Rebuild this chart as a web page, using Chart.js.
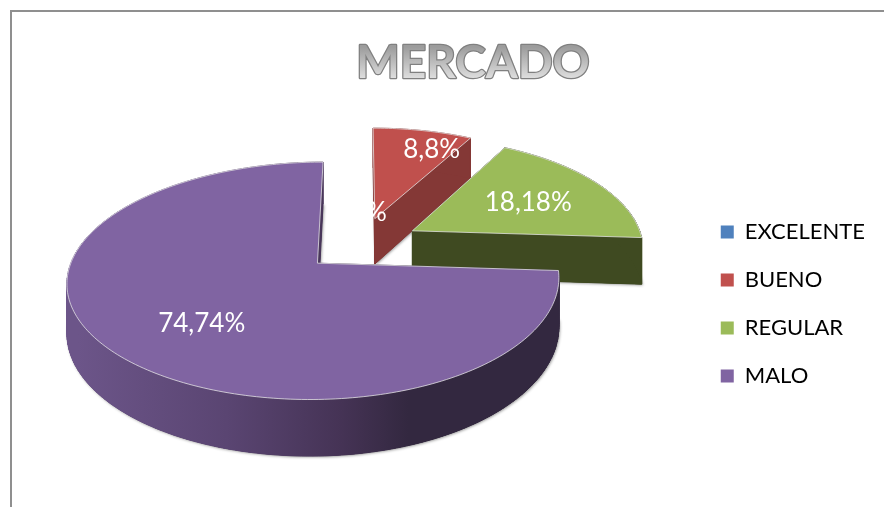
<!DOCTYPE html>
<html lang="es">
<head>
<meta charset="utf-8">
<title>MERCADO</title>
<style>
html,body{margin:0;padding:0;background:#fff}
#box{position:relative;width:884px;height:507px;overflow:hidden}
</style>
<script src="https://cdn.jsdelivr.net/npm/chart.js@4"></script>
</head>
<body>
<div id="box"><canvas id="c" width="884" height="507"></canvas></div>
<script>
const categories = ["EXCELENTE", "BUENO", "REGULAR", "MALO"];
const values = [0, 8, 18, 74];
const dataLabels = ["0,0%", "8,8%", "18,18%", "74,74%"];
const titleText = "MERCADO";
const topColors = ["#4F81BD", "#C0504D", "#9BBB59", "#8064A2"];
const wallColors = ["#2f4d71", "#843836", "#3f4a21", "#332840"];
const explode = [0, 58, 60, 58];
const labelRadius = [0.30, 0.788, 0.60, 0.642];
const labelTurnDeg = [-2, 6.6, 1.8, -5.2];

const PIE_RADIUS = 236;
const PERSP = 0.145, FLATTEN = 110.5 / PIE_RADIUS, DEPTH = 47, SKEW = 3.3 / PIE_RADIUS;

function projector(el) {
  const R = el.outerRadius;
  return (u, v) => {
    const w = 1 - PERSP * v;
    const x = u / w;
    return { x: el.x + R * x - R * SKEW * x * x, y: el.y + R * FLATTEN * v / w, drop: DEPTH / w };
  };
}
function sliceOutline(el, off) {
  const p = el.getProps(["startAngle", "endAngle"], true);
  const mid = (p.startAngle + p.endAngle) / 2;
  const ox = Math.cos(mid) * off, oy = Math.sin(mid) * off;
  const pts = [[ox, oy]];
  const n = Math.max(2, Math.ceil((p.endAngle - p.startAngle) / 0.02));
  for (let i = 0; i <= n; i++) {
    const a = p.startAngle + (p.endAngle - p.startAngle) * i / n;
    pts.push([ox + Math.cos(a), oy + Math.sin(a)]);
  }
  return { pts, ox, oy, mid };
}
function tracePath(ctx, pts) {
  ctx.beginPath();
  pts.forEach((q, i) => i ? ctx.lineTo(q.x, q.y) : ctx.moveTo(q.x, q.y));
  ctx.closePath();
}

const pie3d = {
  id: "pie3d",
  beforeDraw(chart) {
    const ctx = chart.ctx;
    ctx.save();
    ctx.fillStyle = "#fff";
    ctx.fillRect(0, 0, chart.width, chart.height);
    ctx.strokeStyle = "#8f8f8f";
    ctx.lineWidth = 2;
    ctx.beginPath();
    ctx.moveTo(11, chart.height);
    ctx.lineTo(11, 11);
    ctx.lineTo(chart.width, 11);
    ctx.stroke();
    ctx.restore();
  },
  afterLayout(chart) {
    const t = chart.titleBlock, l = chart.legend;
    const shift = 473 - (t.left + t.right) / 2;
    t.left += shift; t.right += shift;
    l.top += 105.5; l.bottom += 105.5;
    l.left -= 9; l.right -= 9;
  },
  beforeDatasetDraw(chart) {
    const ctx = chart.ctx;
    const arcs = chart.getDatasetMeta(0).data;
    arcs.forEach((el, i) => {
      if (!values[i]) return;
      const R = el.outerRadius;
      const proj = projector(el);
      const o = sliceOutline(el, explode[i] / R);
      const top = o.pts.map(q => proj(q[0], q[1]));
      const base = top.map(q => ({ x: q.x, y: q.y + q.drop }));
      let wall = wallColors[i];
      if (i === 3) {
        const g = ctx.createLinearGradient(el.x - 1.2 * R, 0, el.x + 0.2 * R, 0);
        g.addColorStop(0, "#6c5589");
        g.addColorStop(0.45, "#5a4572");
        g.addColorStop(0.8, "#453355");
        g.addColorStop(1, wallColors[3]);
        wall = g;
      }
      ctx.save();
      ctx.shadowColor = "rgba(0,0,0,0.45)";
      ctx.shadowBlur = 3;
      ctx.shadowOffsetX = 1;
      ctx.shadowOffsetY = 1;
      ctx.fillStyle = wallColors[i];
      tracePath(ctx, base);
      ctx.fill();
      ctx.restore();
      ctx.save();
      ctx.fillStyle = wall;
      ctx.strokeStyle = wall;
      ctx.lineWidth = 1;
      for (let k = 0; k < top.length; k++) {
        const a = top[k], b = top[(k + 1) % top.length];
        const c = base[(k + 1) % top.length], d = base[k];
        tracePath(ctx, [a, b, c, d]);
        ctx.fill();
        ctx.stroke();
      }
      ctx.restore();
      ctx.save();
      tracePath(ctx, base);
      ctx.fillStyle = wall;
      ctx.fill();
      tracePath(ctx, top);
      ctx.fillStyle = topColors[i];
      ctx.fill();
      ctx.strokeStyle = "rgba(235,235,235,0.75)";
      ctx.lineWidth = 1;
      ctx.stroke();
      ctx.restore();
    });
    return false;
  },
  afterDatasetsDraw(chart) {
    const ctx = chart.ctx;
    const arcs = chart.getDatasetMeta(0).data;
    ctx.save();
    ctx.fillStyle = "#fff";
    ctx.font = "26px Lato";
    ctx.textAlign = "center";
    ctx.textBaseline = "middle";
    arcs.forEach((el, i) => {
      const proj = projector(el);
      const o = sliceOutline(el, explode[i] / el.outerRadius);
      const a = o.mid + labelTurnDeg[i] * Math.PI / 180;
      const q = proj(o.ox + Math.cos(a) * labelRadius[i], o.oy + Math.sin(a) * labelRadius[i]);
      ctx.fillText(dataLabels[i], q.x, q.y);
    });
    ctx.restore();
  },
  afterDraw(chart) {
    const ctx = chart.ctx, t = chart.titleBlock;
    const f = chart.options.plugins.title.font;
    const cx = (t.left + t.right) / 2;
    const cy = t.top + chart.options.plugins.title.padding.top + f.size * 1.2 / 2;
    ctx.save();
    ctx.font = f.weight + " " + f.size + "px " + f.family;
    ctx.textAlign = "center";
    ctx.textBaseline = "middle";
    ctx.lineJoin = "round";
    ctx.strokeStyle = "#808080";
    ctx.lineWidth = 2.5;
    ctx.strokeText(titleText, cx, cy);
    const g = ctx.createLinearGradient(0, cy - f.size * 0.36, 0, cy + f.size * 0.36);
    g.addColorStop(0, "#9c9c9c");
    g.addColorStop(1, "#e2e2e2");
    ctx.fillStyle = g;
    ctx.fillText(titleText, cx, cy);
    ctx.restore();
  }
};

new Chart(document.getElementById("c"), {
  type: "pie",
  data: {
    labels: categories,
    datasets: [{ data: values, backgroundColor: topColors, offset: explode, borderWidth: 0 }]
  },
  options: {
    responsive: false,
    animation: false,
    radius: PIE_RADIUS,
    layout: { padding: { left: 18, bottom: 110 } },
    events: [],
    plugins: {
      tooltip: { enabled: false },
      title: {
        display: true,
        text: titleText,
        color: "#c8c8c8",
        font: { family: "Lato", size: 46, weight: "bold" },
        padding: { top: 36, bottom: 0 }
      },
      legend: {
        position: "right",
        labels: {
          boxWidth: 13,
          boxHeight: 13,
          padding: 26,
          color: "#000",
          font: { family: "Lato", size: 22 }
        }
      }
    }
  },
  plugins: [pie3d]
});
</script>
</body>
</html>
